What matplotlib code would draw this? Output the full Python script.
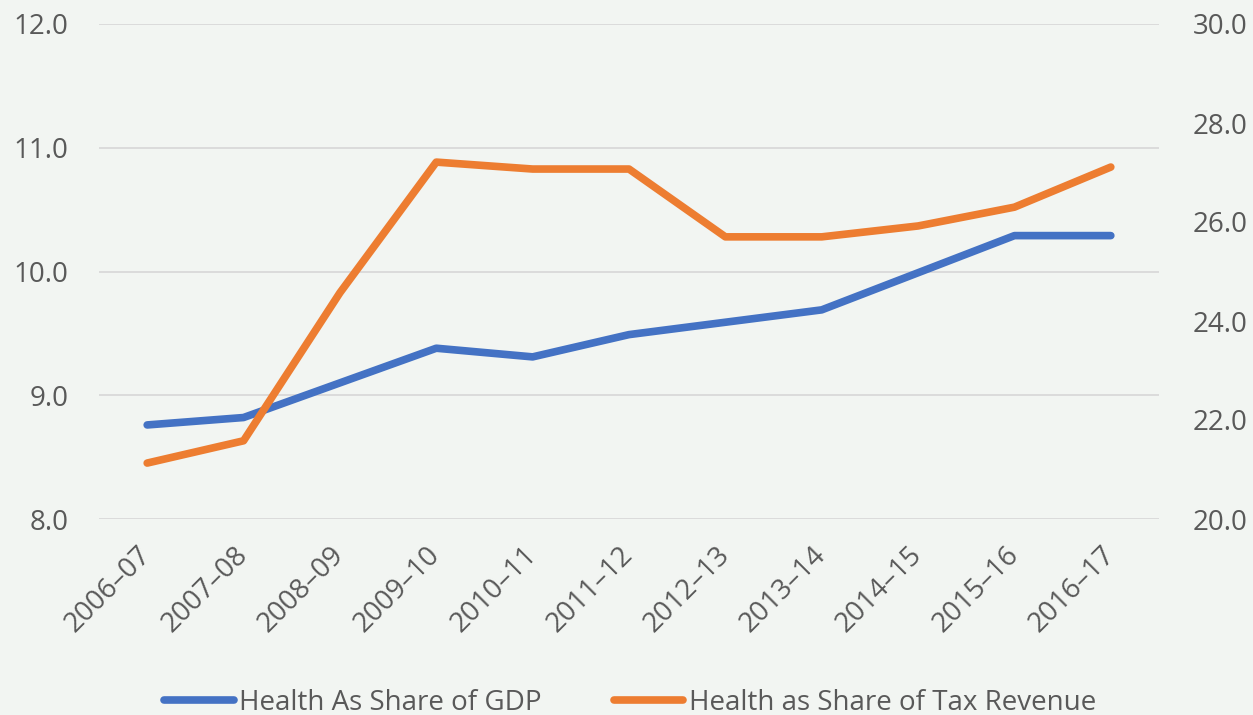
import matplotlib.pyplot as plt

plt.rcParams['font.family'] = ['Open Sans', 'DejaVu Sans']

years = ['2006–07', '2007–08', '2008–09', '2009–10', '2010–11', '2011–12',
         '2012–13', '2013–14', '2014–15', '2015–16', '2016–17']
share_gdp = [8.76, 8.82, 9.10, 9.38, 9.31, 9.49, 9.59, 9.69, 9.99, 10.29, 10.29]
share_tax = [21.13, 21.58, 24.57, 27.21, 27.07, 27.07, 25.70, 25.70, 25.92, 26.30, 27.11]

bg = '#f2f5f2'
txt = '#595959'

fig = plt.figure(figsize=(12.53, 7.15), dpi=100, facecolor=bg)
ax = fig.add_axes([99 / 1253, 1 - 519 / 715, 1060 / 1253, 495 / 715])
ax.set_facecolor(bg)
ax2 = ax.twinx()

x = range(len(years))
l1, = ax.plot(x, share_gdp, color='#4472C4', lw=5.5, solid_capstyle='round',
              label='Health As Share of GDP')
l2, = ax2.plot(x, share_tax, color='#ED7D31', lw=5.5, solid_capstyle='round',
               label='Health as Share of Tax Revenue')

ax.set_xlim(-0.5, len(years) - 0.5)
ax.set_ylim(8, 12)
ax.set_yticks([8, 9, 10, 11, 12])
ax.set_yticklabels([f'{v:.1f}' for v in [8, 9, 10, 11, 12]])
ax2.set_ylim(20, 30)
ax2.set_yticks([20, 22, 24, 26, 28, 30])
ax2.set_yticklabels([f'{v:.1f}' for v in [20, 22, 24, 26, 28, 30]])

ax.grid(axis='y', color='#d9d9d9', lw=1.3)
ax.set_axisbelow(True)
for a in (ax, ax2):
    for s in a.spines.values():
        s.set_visible(False)
    a.tick_params(length=0, colors=txt, labelsize=20)

ax.tick_params(axis='y', pad=22)
ax2.tick_params(axis='y', pad=24)
ax.set_xticks(list(x))
ax.set_xticklabels(years, rotation=45, ha='right', va='center', rotation_mode='anchor')
ax.tick_params(axis='x', pad=23, labelsize=20)

fig.legend(handles=[l1, l2], loc='lower center', bbox_to_anchor=(0.503, -0.038),
           ncol=2, frameon=False, fontsize=20, labelcolor=txt,
           handlelength=2.5, handletextpad=0.2, columnspacing=2.6)

fig.savefig('out.png', facecolor=bg)
